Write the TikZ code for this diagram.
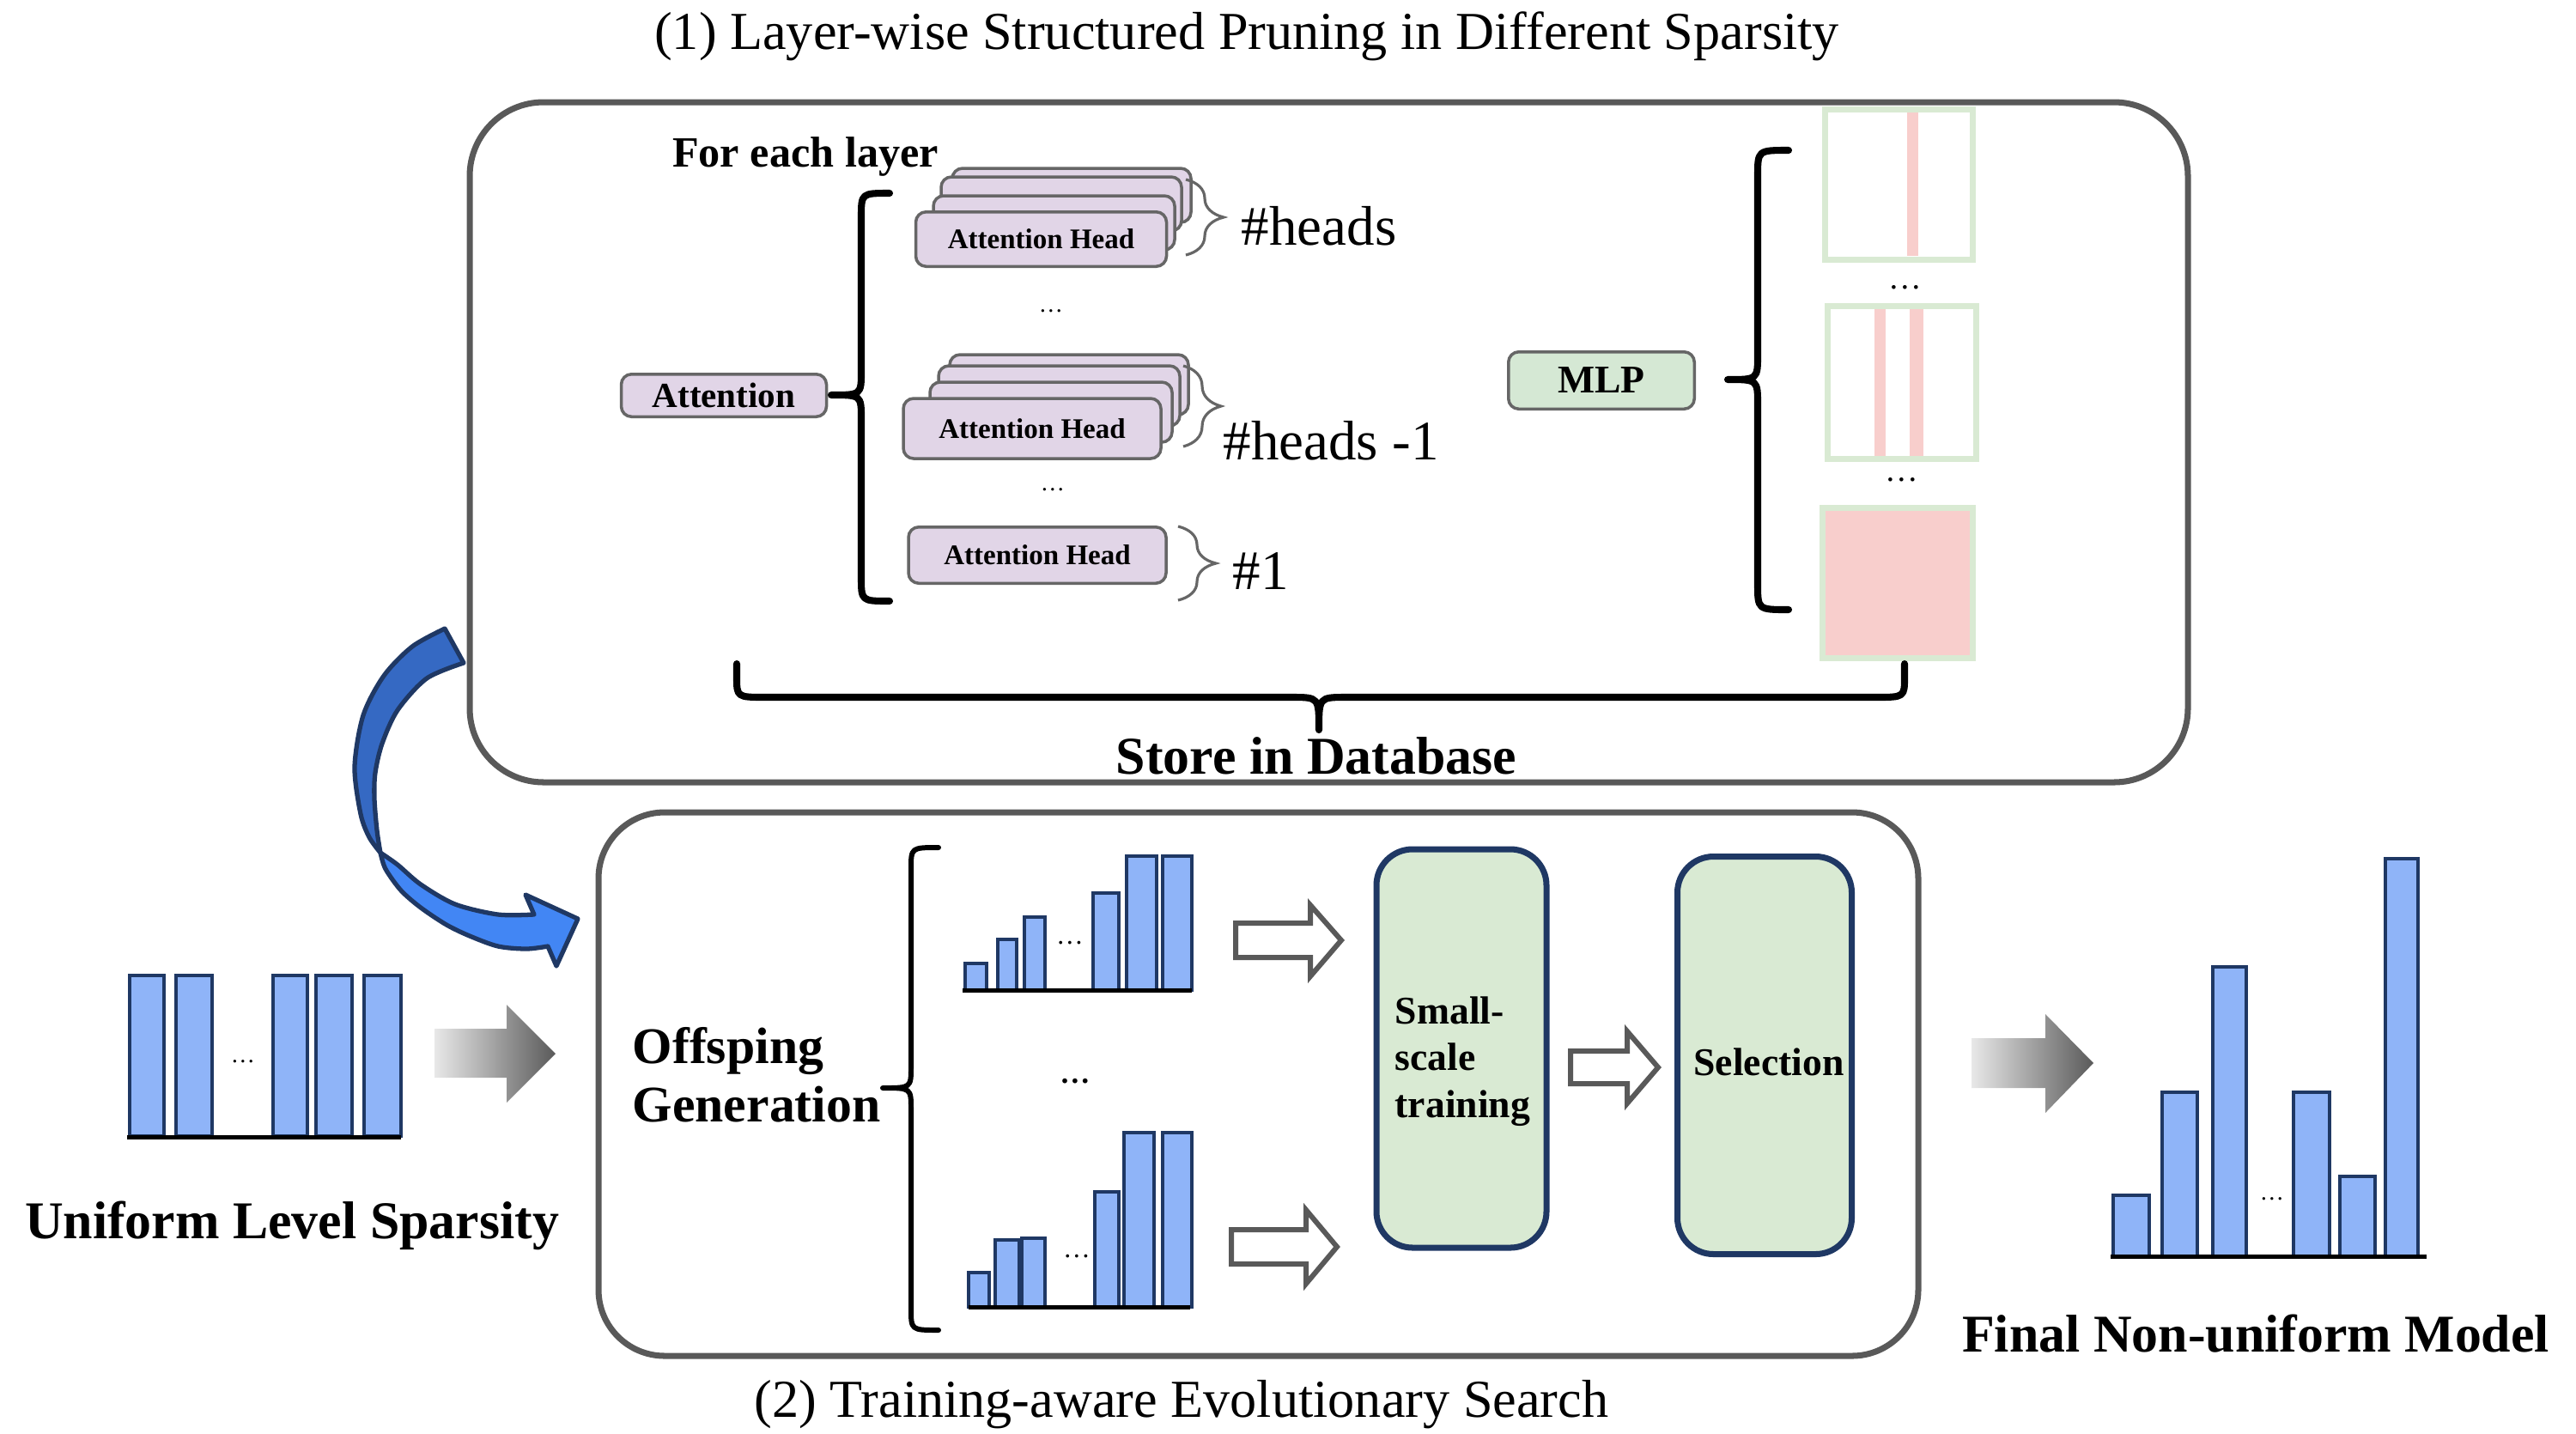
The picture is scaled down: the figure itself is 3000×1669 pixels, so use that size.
\documentclass[tikz,border=0pt]{standalone}
\usepackage{fontspec}
\setmainfont{Liberation Serif}
\usepackage{xcolor}
\usepackage{tikz}
\usetikzlibrary{positioning, decorations.pathreplacing}

\definecolor{headfill}{HTML}{E1D5E7}
\definecolor{mlpfill}{HTML}{D5E8D4}
\definecolor{edgegray}{HTML}{666666}
\definecolor{framegray}{HTML}{595959}
\definecolor{matgreen}{HTML}{D9EAD3}
\definecolor{matpink}{HTML}{F8CECC}
\definecolor{barblue}{HTML}{8FB4F8}
\definecolor{barnavy}{HTML}{1F3864}
\definecolor{stagefill}{HTML}{D9EAD3}
\definecolor{curvetop}{HTML}{3569C3}
\definecolor{curvebot}{HTML}{4286F4}
\definecolor{shadelight}{HTML}{E8E8E8}
\definecolor{shadedark}{HTML}{5A5A5A}

\tikzset{
  frame/.style={draw=framegray, line width=2pt, inner sep=0pt},
  headbox/.style={draw=edgegray, line width=1pt, fill=headfill, rounded corners=1.2mm,
    inner sep=0pt, font=\bfseries\fontsize{9.4}{11}\selectfont},
  headback/.style={draw=edgegray, line width=1pt, fill=headfill, rounded corners=1.2mm},
  mlpbox/.style={draw=edgegray, line width=1pt, fill=mlpfill, rounded corners=1.2mm,
    inner sep=0pt, font=\bfseries\fontsize{13}{15}\selectfont},
  matbox/.style={draw=matgreen, line width=0.7mm, fill=white, inner sep=0pt},
  stagebox/.style={draw=barnavy, line width=2pt, fill=stagefill, rounded corners=4.2mm,
    inner sep=0pt, font=\bfseries\fontsize{13}{15.6}\selectfont},
  bar/.style={draw=barnavy, fill=barblue, line width=0.4mm},
  axisline/.style={line width=0.5mm},
  bigbrace/.style={line width=2.3pt, line cap=round, line join=round},
  thinbrace/.style={decorate, decoration={brace, amplitude=4.4mm}, draw=edgegray, line width=0.9pt},
  hollowarrow/.style={draw=framegray, line width=1.7pt, fill=white, line join=miter},
  fadearrow/.style={left color=shadelight, right color=shadedark},
  curvearrow/.style={draw=barnavy, line width=1.5pt, line join=round},
  titletxt/.style={inner sep=0pt, font=\fontsize{17.7}{21}\selectfont},
  boldtxt/.style={inner sep=0pt, font=\bfseries\fontsize{17.6}{21}\selectfont},
  counttxt/.style={inner sep=0pt, font=\fontsize{18.5}{22}\selectfont},
  dotstxt/.style={inner sep=0pt, font=\fontsize{8}{10}\selectfont}
}

\begin{document}
\begin{tikzpicture}[x=0.1mm,y=0.1mm,yscale=-1,xscale=1]
\useasboundingbox (0,0) rectangle (3000,1669);

% Shape: Rounded Rectangle (pruning stage)
\node[frame, minimum width=200.1mm, minimum height=79.2mm, rounded corners=8.6mm] (prunebox) at (1547.5,515) {};
% Shape: Rounded Rectangle (search stage)
\node[frame, minimum width=153.7mm, minimum height=63.3mm, rounded corners=7.7mm] (searchbox) at (1465.5,1262.5) {};

% Text Node
\node[titletxt] (prunetitle) at (1452,42) {(1) Layer-wise Structured Pruning in Different Sparsity};
% Text Node
\node[titletxt] (searchtitle) at (1376,1636) {(2) Training-aware Evolutionary Search};
% Text Node
\node[inner sep=0pt, font=\bfseries\fontsize{14.3}{17}\selectfont] (layertxt) at (938,182) {For each layer};

% Attention block
\node[headbox, minimum width=23.9mm, minimum height=4.95mm, font=\bfseries\fontsize{11.7}{14}\selectfont] (attn) at (843,460.5) {Attention};
% Brace: attention
\draw[bigbrace] (1036,225) .. controls (1003,225) .. (1003,253) -- (1003,432)
  .. controls (1003,460) .. (968,460) .. controls (1003,460) .. (1003,488)
  -- (1003,672) .. controls (1003,700) .. (1036,700);

% Stack of all heads
\draw[headback] (1109,196) rectangle (1387,259);
\draw[headback] (1096,206) rectangle (1376,269);
\draw[headback] (1087,228) rectangle (1368,291);
\node[headbox, minimum width=29.2mm, minimum height=6.35mm] (headall) at (1212.5,278.5) {Attention Head};
\draw[thinbrace] (1381,209) -- (1381,297);
\node[counttxt] (cntall) at (1536,263) {\#heads};
\node[dotstxt] (dotsa) at (1224,362) {\ldots};

% Stack of heads minus one
\draw[headback] (1106,413) rectangle (1384,483);
\draw[headback] (1093,426) rectangle (1374,496);
\draw[headback] (1083,445) rectangle (1365,515);
\node[headbox, minimum width=30mm, minimum height=7mm] (headless) at (1202,499) {Attention Head};
\draw[thinbrace] (1378,426) -- (1378,520);
\node[counttxt] (cntless) at (1550,513.5) {\#heads -1};
\node[dotstxt] (dotsb) at (1226,570) {\ldots};

% Single head
\node[headbox, minimum width=30mm, minimum height=6.55mm] (headone) at (1208,646.5) {Attention Head};
\draw[thinbrace] (1372,613) -- (1372,699);
\node[counttxt] (cntone) at (1468,665) {\#1};

% MLP block
\node[mlpbox, minimum width=21.65mm, minimum height=6.65mm] (mlp) at (1865,443) {MLP};
% Brace: mlp
\draw[bigbrace] (2083,175) .. controls (2047,175) .. (2047,205) -- (2047,412)
  .. controls (2047,442) .. (2012,442) .. controls (2047,442) .. (2047,472)
  -- (2047,680) .. controls (2047,710) .. (2083,710);

% Shape: weight matrices
\node[matbox, minimum width=17.2mm, minimum height=17.5mm] (matone) at (2211,214.5) {};
\fill[matpink] (2221,131) rectangle (2234,298);
\node[dotstxt, font=\fontsize{11}{13}\selectfont] (dotsc) at (2219,335) {\ldots};
\node[matbox, minimum width=17.3mm, minimum height=17.8mm] (mattwo) at (2215,445.5) {};
\fill[matpink] (2183,360) rectangle (2196,531);
\fill[matpink] (2224,360) rectangle (2240,531);
\node[dotstxt, font=\fontsize{11}{13}\selectfont] (dotsd) at (2215,559) {\ldots};
\node[matbox, fill=matpink, minimum width=17.5mm, minimum height=17.5mm] (matall) at (2210,679) {};

% Brace: store
\draw[bigbrace] (858,773) -- (858,788) .. controls (858,812) .. (892,812) -- (1504,812)
  .. controls (1536,812) .. (1536,850) .. controls (1536,812) .. (1568,812)
  -- (2184,812) .. controls (2218,812) .. (2218,788) -- (2218,773);
\node[boldtxt] (storetxt) at (1533,880) {Store in Database};

% Curved arrow into search (upper and lower part)
\draw[curvearrow, fill=curvetop]
  plot[smooth] coordinates {(518,732) (480,753) (447,787) (423,833) (413,893) (420,948) (430,975) (443,993)}
  -- plot[smooth] coordinates {(443,993) (439,967) (436,930) (437,900) (445,866) (463,827) (497,790) (540,772)}
  -- cycle;
\draw[curvearrow, fill=curvebot]
  plot[smooth] coordinates {(443,993) (449,1012) (467,1037) (490,1057) (520,1077) (547,1090) (580,1102) (613,1105) (638,1102)}
  -- (648,1125) -- (673,1070) -- (612,1042)
  -- plot[smooth] coordinates {(622,1065) (580,1065) (530,1053) (490,1030) (463,1007) (443,993)}
  -- cycle;

% Uniform sparsity bars
\draw[bar] (151,1136) rectangle (191,1323);
\draw[bar] (205,1136) rectangle (247,1323);
\draw[bar] (318,1136) rectangle (358,1323);
\draw[bar] (368,1136) rectangle (410,1323);
\draw[bar] (424,1136) rectangle (467,1323);
\draw[axisline] (148,1324) -- (467,1324);
\node[dotstxt] (dotsu) at (283,1236) {\ldots};
\node[boldtxt] (uniformtxt) at (340,1427) {Uniform Level Sparsity};

% Shape: shaded arrows
\shade[fadearrow] (506,1198) -- (590,1198) -- (590,1170) -- (647,1227) -- (590,1284) -- (590,1255) -- (506,1255) -- cycle;
\shade[fadearrow] (2296,1209) -- (2382,1209) -- (2382,1181) -- (2438,1238) -- (2382,1296) -- (2382,1267) -- (2296,1267) -- cycle;

% Offspring
\node[inner sep=0pt, anchor=west, align=left, font=\bfseries\fontsize{17}{19.3}\selectfont] (offtxt) at (736,1252) {Offsping\\Generation};
% Brace: offspring
\draw[bigbrace, line width=1.7pt] (1093,987) .. controls (1061,987) .. (1061,1012) -- (1061,1242)
  .. controls (1061,1267) .. (1028,1267) .. controls (1061,1267) .. (1061,1292)
  -- (1061,1524) .. controls (1061,1549) .. (1093,1549);

% Offspring bars, first
\draw[bar] (1124,1122) rectangle (1149,1153);
\draw[bar] (1162,1094) rectangle (1184,1153);
\draw[bar] (1193,1068) rectangle (1217,1153);
\draw[bar] (1273,1040) rectangle (1303,1153);
\draw[bar] (1312,997) rectangle (1347,1153);
\draw[bar] (1354,997) rectangle (1388,1153);
\draw[axisline] (1121,1153) -- (1388,1153);
\node[dotstxt, font=\fontsize{9}{11}\selectfont] (dotsm) at (1246,1098) {\ldots};

\node[inner sep=0pt, font=\bfseries\fontsize{10}{12}\selectfont] (dotsmid) at (1252,1259) {\ldots};

% Offspring bars, last
\draw[bar] (1128,1482) rectangle (1152,1522);
\draw[bar] (1159,1444) rectangle (1187,1522);
\draw[bar] (1190,1442) rectangle (1217,1522);
\draw[bar] (1275,1388) rectangle (1303,1522);
\draw[bar] (1309,1319) rectangle (1344,1522);
\draw[bar] (1354,1319) rectangle (1388,1522);
\draw[axisline] (1128,1522) -- (1386,1522);
\node[dotstxt, font=\fontsize{9}{11}\selectfont] (dotsn) at (1254,1463) {\ldots};

% Shape: hollow arrows
\draw[hollowarrow] (1439,1075) -- (1526,1075) -- (1526,1054) -- (1562,1095) -- (1526,1137) -- (1526,1115) -- (1439,1115) -- cycle;
\draw[hollowarrow] (1434,1432) -- (1521,1432) -- (1521,1409) -- (1557,1452) -- (1521,1495) -- (1521,1472) -- (1434,1472) -- cycle;
\draw[hollowarrow] (1829,1224) -- (1895,1224) -- (1895,1201) -- (1931,1243) -- (1895,1285) -- (1895,1262) -- (1829,1262) -- cycle;

% Training and selection
\node[stagebox, minimum width=19.8mm, minimum height=46.4mm] (trainbox) at (1702,1221) {};
\node[inner sep=0pt, anchor=west, align=left, font=\bfseries\fontsize{13}{15.6}\selectfont] (traintxt) at (1624,1236) {Small-\\scale\\training};
\node[stagebox, minimum width=20.3mm, minimum height=46.3mm] (selbox) at (2055,1229) {};
\node[inner sep=0pt, font=\bfseries\fontsize{13}{15.6}\selectfont] (seltxt) at (2060,1237) {Selection};

% Final bars
\draw[bar] (2461,1392) rectangle (2503,1463);
\draw[bar] (2518,1272) rectangle (2559,1463);
\draw[bar] (2577,1126) rectangle (2616,1463);
\draw[bar] (2671,1272) rectangle (2713,1463);
\draw[bar] (2725,1370) rectangle (2766,1463);
\draw[bar] (2778,1000) rectangle (2816,1463);
\draw[axisline] (2458,1463) -- (2826,1463);
\node[dotstxt] (dotsf) at (2646,1396) {\ldots};
\node[boldtxt] (finaltxt) at (2627,1553) {Final Non-uniform Model};

\end{tikzpicture}
\end{document}
